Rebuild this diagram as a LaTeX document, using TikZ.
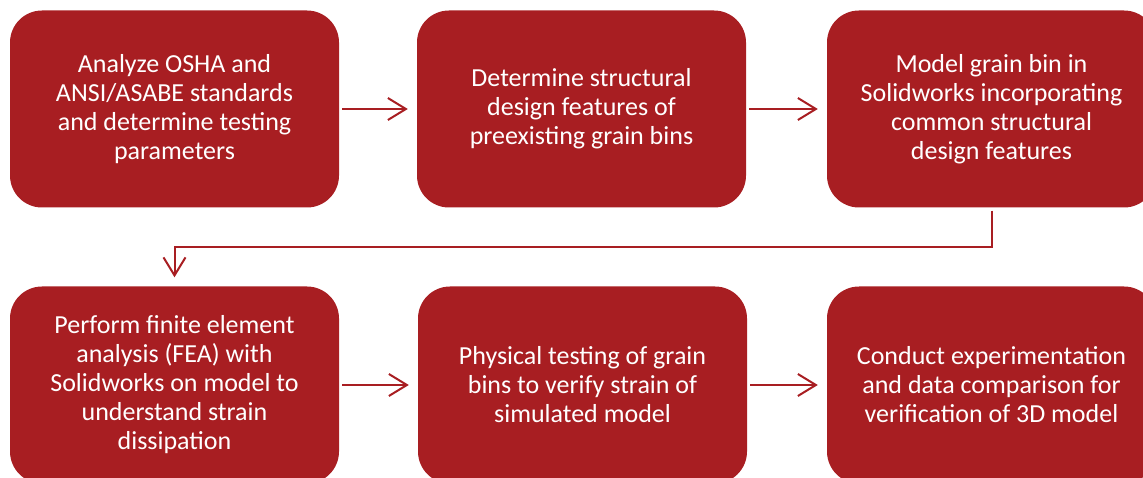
\documentclass[tikz,border=0pt]{standalone}
\usepackage{fontspec}
\setmainfont{Carlito}
\usetikzlibrary{arrows.meta}
\definecolor{boxred}{RGB}{168,30,34}
\tikzset{
  stepbox/.style={draw=none, fill=boxred, rounded corners=32pt, minimum width=329pt, minimum height=197pt, inner sep=0pt, align=center, text=white, font=\fontsize{26}{29}\selectfont},
  arr/.style={draw=boxred, line width=2pt, -{Straight Barb[length=18pt,width=22pt,line width=2pt]}, shorten <=3pt, shorten >=9pt}
}
\begin{document}
\begin{tikzpicture}[x=1pt,y=-1pt]
\useasboundingbox (0,0) rectangle (1143,478);
\node[stepbox] (b1) at (174.5,109) {Analyze OSHA and\\ANSI/ASABE standards\\and determine testing\\parameters};
\node[stepbox] (b2) at (581.5,109) {Determine structural\\design features of\\preexisting grain bins};
\node[stepbox] (b3) at (991.5,109) {Model grain bin in\\Solidworks incorporating\\common structural\\design features};
\node[stepbox] (b4) at (174.5,385) {Perform finite element\\analysis (FEA) with\\Solidworks on model to\\understand strain\\dissipation};
\node[stepbox] (b5) at (582.5,385) {Physical testing of grain\\bins to verify strain of\\simulated model};
\node[stepbox] (b6) at (991.5,385) {Conduct experimentation\\and data comparison for\\verification of 3D model};
\coordinate (m) at (991.5,247);
\draw[arr] (b1) -- (b2);
\draw[arr] (b2) -- (b3);
\draw[arr] (b3.south) -- (b3.south |- m) -| (b4.north);
\draw[arr] (b4) -- (b5);
\draw[arr] (b5) -- (b6);
\end{tikzpicture}
\end{document}
